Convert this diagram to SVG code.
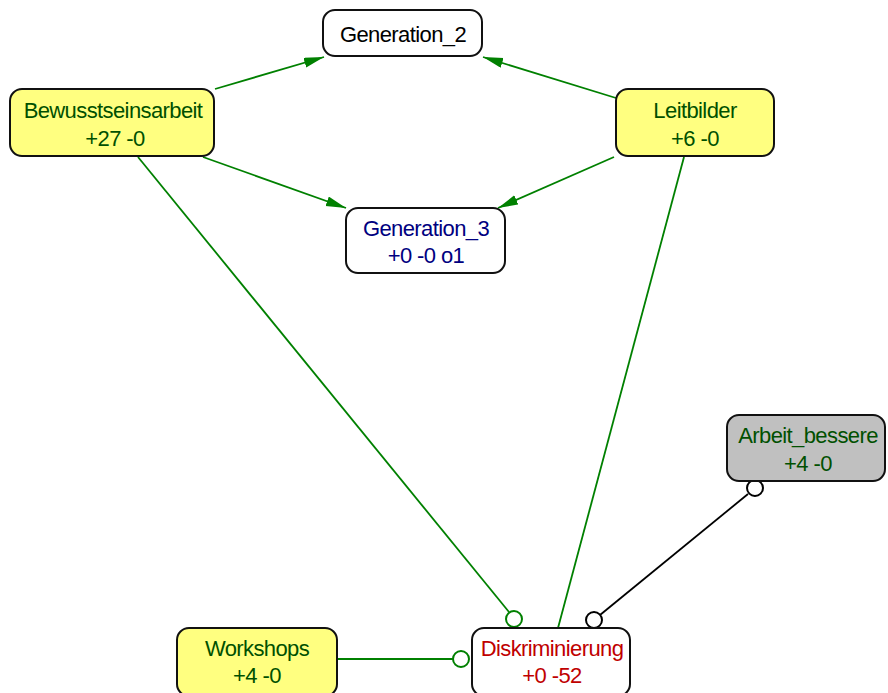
<svg xmlns="http://www.w3.org/2000/svg" width="888" height="693" viewBox="0 0 888 693">
  <style>
    .node rect { stroke: #111; stroke-width: 2; }
    .plain rect { fill: #ffffff; }
    .pos rect { fill: #ffff80; }
    .grey rect { fill: #c0c0c0; }
    text { font-family: "Liberation Sans", Arial, sans-serif; font-size: 22px; text-anchor: middle; letter-spacing: -0.6px; }
    .t-black { fill: #000000; }
    .t-green { fill: #005000; }
    .t-blue { fill: #000080; }
    .t-red { fill: #c00000; }
    .edge { fill: none; stroke-width: 1.8; }
    .g { stroke: #008000; }
    .k { stroke: #000000; }
    .ring { fill: #ffffff; stroke-width: 2; }
  </style>
  <defs>
    <marker id="arrow" markerUnits="userSpaceOnUse" markerWidth="22" markerHeight="12" refX="20" refY="5" orient="auto">
      <path d="M0,0 L20,5 L0,10 z" fill="#008000"/>
    </marker>
  </defs>
  <rect width="888" height="693" fill="#ffffff"/>

  <g id="connectors">
    <line class="edge g" x1="215" y1="89" x2="324" y2="57" marker-end="url(#arrow)"/>
    <line class="edge g" x1="616" y1="98" x2="483" y2="57" marker-end="url(#arrow)"/>
    <line class="edge g" x1="203" y1="157" x2="346" y2="208" marker-end="url(#arrow)"/>
    <line class="edge g" x1="614" y1="157" x2="498" y2="208" marker-end="url(#arrow)"/>
    <line class="edge g" x1="138" y1="157" x2="509" y2="612"/>
    <circle class="ring g" cx="514" cy="619" r="8"/>
    <line class="edge g" x1="684" y1="157" x2="558" y2="628"/>
    <line class="edge k" x1="748" y1="494" x2="600" y2="615"/>
    <circle class="ring k" cx="755" cy="488" r="8"/>
    <circle class="ring k" cx="594" cy="620" r="8"/>
    <line class="edge g" x1="337" y1="659" x2="453" y2="659"/>
    <circle class="ring g" cx="461" cy="659" r="8"/>
  </g>

  <g id="generation_2" class="node plain">
    <rect x="323" y="10" width="159" height="46" rx="12"/>
    <text class="t-black" x="403" y="42">Generation_2</text>
  </g>
  <g id="bewusstseinsarbeit" class="node pos">
    <rect x="10" y="89" width="204" height="67" rx="12"/>
    <text class="t-green" x="113" y="118">Bewusstseinsarbeit</text>
    <text class="t-green" x="115" y="146">+27 -0</text>
  </g>
  <g id="leitbilder" class="node pos">
    <rect x="616" y="89" width="158" height="67" rx="12"/>
    <text class="t-green" x="695" y="118">Leitbilder</text>
    <text class="t-green" x="695" y="146">+6 -0</text>
  </g>
  <g id="generation_3" class="node plain">
    <rect x="346" y="208" width="159" height="65" rx="12"/>
    <text class="t-blue" x="426" y="236">Generation_3</text>
    <text class="t-blue" x="426" y="263">+0 -0 o1</text>
  </g>
  <g id="arbeit_bessere" class="node grey">
    <rect x="727" y="415" width="158" height="66" rx="12"/>
    <text class="t-green" x="808" y="443">Arbeit_bessere</text>
    <text class="t-green" x="808" y="471">+4 -0</text>
  </g>
  <g id="workshops" class="node pos">
    <rect x="177" y="628" width="160" height="68" rx="12"/>
    <text class="t-green" x="257" y="656">Workshops</text>
    <text class="t-green" x="257" y="683">+4 -0</text>
  </g>
  <g id="diskriminierung" class="node plain">
    <rect x="472" y="628" width="158" height="68" rx="12"/>
    <text class="t-red" x="552" y="656">Diskriminierung</text>
    <text class="t-red" x="552" y="683">+0 -52</text>
  </g>
</svg>
